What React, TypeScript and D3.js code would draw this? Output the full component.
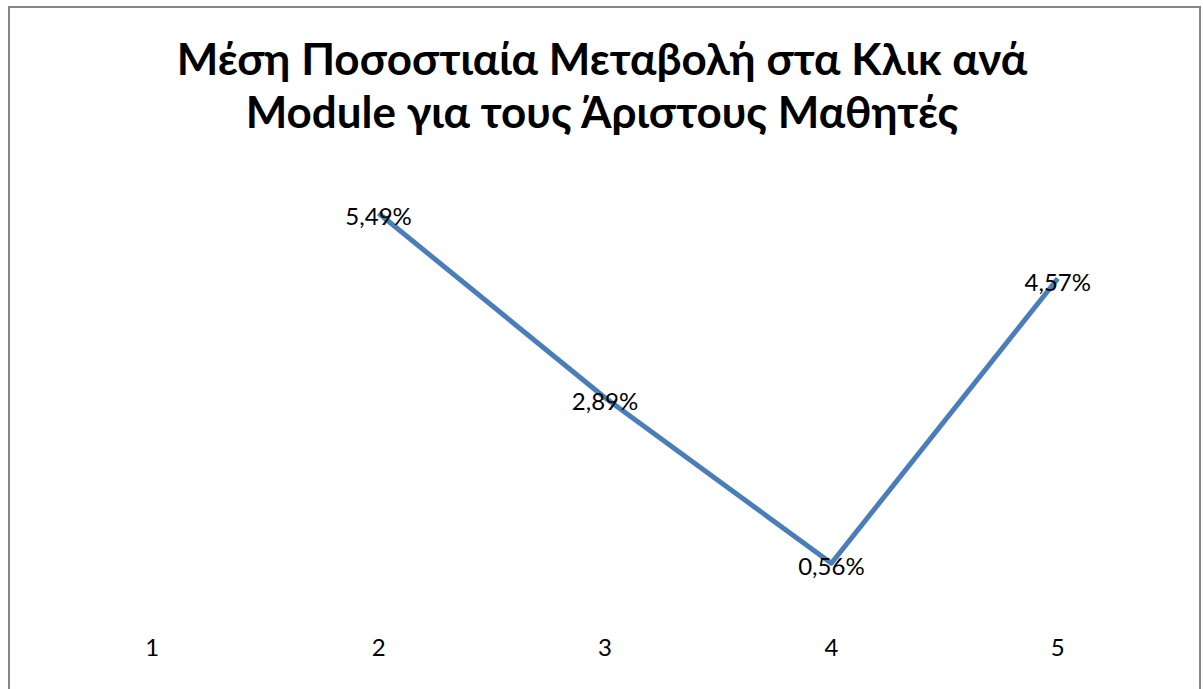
import React from "react";
import * as d3 from "d3";

// Module numbers along the x axis
const modules: string[] = ["1", "2", "3", "4", "5"];
// Average percentage change in clicks per module (module 1 has no value)
const changes: (number | null)[] = [null, 5.49, 2.89, 0.56, 4.57];
const titleLines: string[] = [
  "Μέση Ποσοστιαία Μεταβολή στα Κλικ ανά",
  "Module για τους Άριστους Μαθητές",
];

const W = 1203;
const H = 689;
const FONT = "Lato, 'Open Sans', sans-serif";

const fmt = (v: number) => d3.format(".2f")(v).replace(".", ",") + "%";

export default function App() {
  const x = d3.scaleBand<string>().domain(modules).range([39, 1171]).padding(0);
  const y = d3.scaleLinear().domain([0, 6]).range([603, 177]);
  const cx = (m: string) => (x(m) ?? 0) + x.bandwidth() / 2;

  const pts = modules.map((m, i) => ({ m, v: changes[i] }));
  const line = d3
    .line<{ m: string; v: number | null }>()
    .defined((d) => d.v != null)
    .x((d) => cx(d.m))
    .y((d) => y(d.v as number));

  return (
    <svg
      width={W}
      height={H}
      style={{ position: "fixed", left: 0, top: 0, background: "#fff" }}
      fontFamily={FONT}
    >
      <rect x={0} y={0} width={W} height={H} fill="#fff" />
      <rect x={9} y={7} width={1191} height={700} fill="none" stroke="#868686" strokeWidth={2} />

      {titleLines.map((t, i) => (
        <text
          key={i}
          x={602}
          y={75 + i * 53}
          textAnchor="middle"
          fontSize={44}
          fontWeight={700}
          fill="#000"
        >
          {t}
        </text>
      ))}

      <path d={line(pts) ?? ""} fill="none" stroke="#4a7ebb" strokeWidth={5} strokeLinejoin="round" />

      {pts
        .filter((d) => d.v != null)
        .map((d) => (
          <text
            key={d.m}
            x={cx(d.m)}
            y={y(d.v as number) + 12}
            textAnchor="middle"
            fontSize={24}
            fill="#000"
          >
            {fmt(d.v as number)}
          </text>
        ))}

      {modules.map((m) => (
        <text key={m} x={cx(m)} y={656} textAnchor="middle" fontSize={24} fill="#000">
          {m}
        </text>
      ))}
    </svg>
  );
}
